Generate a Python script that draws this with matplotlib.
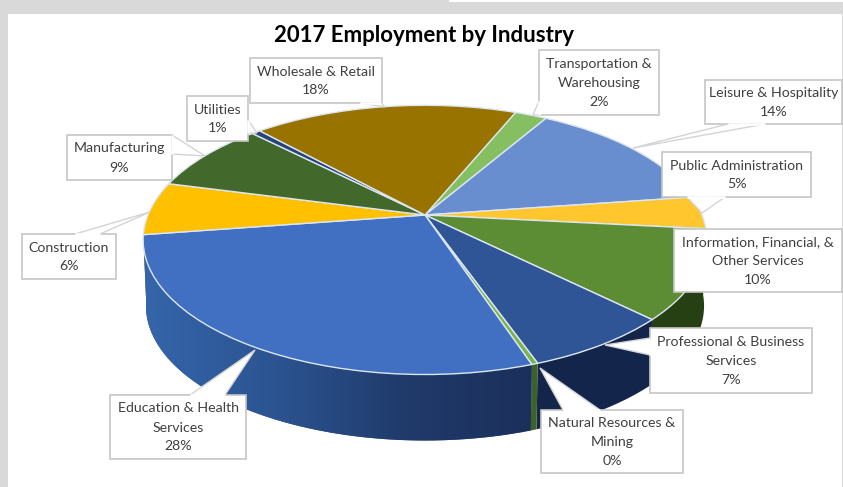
import numpy as np
import matplotlib
matplotlib.use('Agg')
import matplotlib.pyplot as plt
from matplotlib.colors import LinearSegmentedColormap
from matplotlib.patches import Polygon, Rectangle
from matplotlib.transforms import Transform

plt.rcParams['font.family'] = ['Lato', 'DejaVu Sans']

##############################################################################
#                                  DATA
##############################################################################
industries = ['Transportation &\nWarehousing', 'Leisure & Hospitality',
              'Public Administration',
              'Information, Financial, &\nOther Services',
              'Professional & Business\nServices',
              'Natural Resources &\nMining', 'Education & Health\nServices',
              'Construction', 'Manufacturing', 'Utilities',
              'Wholesale & Retail']
# slice sizes as drawn in the picture (the printed labels are rounded)
shares = [2.2, 14.3, 3.9, 10.7, 7.2, 0.3, 27.8, 6.4, 8.5, 0.6, 18.1]
share_labels = ['2%', '14%', '5%', '10%', '7%', '0%', '28%', '6%', '9%', '1%',
                '18%']

top_colors = ['#86bf62', '#698ed0', '#ffc62e', '#5c8d35', '#2f5597', '#79b44f',
              '#4170c3', '#ffc000', '#43682b', '#264478', '#997300']
side_colors = ['#4f7a35', '#3a5a95', '#a67c00', '#263f13', '#14254c', '#3d6126',
               '#2c5491', '#a67c00', '#2a4219', '#182c50', '#614900']

##############################################################################
#                                 LAYOUT
##############################################################################
# callout box (left, top, right, bottom) in pixels, then leader triangle
boxes = [(539, 50, 659, 115), (705, 80, 842, 124), (662, 152, 811, 197),
         (674, 229, 842, 292), (650, 328, 812, 393), (541, 410, 683, 473),
         (110, 395, 246, 459), (22, 234, 116, 279), (67, 135, 172, 180),
         (187, 96, 248, 141), (250, 58, 382, 103)]
leaders = [[(539, 101), (533, 115), (539, 115)],
           [(765, 124), (633, 148), (728, 124)],
           [(725, 197), (702, 213), (687, 197)],
           None,
           [(650, 355), (605, 345), (650, 338)],
           [(600, 410), (540, 368), (563, 410)],
           [(225, 395), (255, 350), (190, 395)],
           [(100, 234), (150, 212), (75, 234)],
           [(172, 135), (205, 156), (172, 154)],
           [(248, 120), (257, 133), (248, 133)],
           [(381, 103), (385, 107), (360, 103)]]

apex_x = 425;   apex_y = 215
rad_x = 277;    rad_y = 130;    tilt = 0.185
depth = 66


class Tilted(Transform):
    # unit circle -> tilted disc, in picture pixels
    input_dims = 2
    output_dims = 2
    is_affine = False
    has_inverse = False

    def transform_non_affine(self, values):
        values = np.asarray(values, dtype=float)
        w = 1 + tilt*values[:, 1]
        return np.column_stack((apex_x + rad_x*values[:, 0]/w,
                                apex_y - rad_y*values[:, 1]/w))


##############################################################################
#                                PLOTTING
##############################################################################
fig = plt.figure(figsize=(8.43, 4.87), dpi=100, facecolor='#d9d9d9')
ax = fig.add_axes([0, 0, 1, 1])

wedges, _ = ax.pie(shares, colors=top_colors, startangle=67.5, counterclock=False,
                   wedgeprops=dict(edgecolor='#dbe6f2', linewidth=1.0))
tilted = Tilted()
for w in wedges:
    w.set_transform(tilted + ax.transData)
    w.set_zorder(3)

ax.set_aspect('auto')
ax.set_xlim(0, 843)
ax.set_ylim(487, 0)
ax.axis('off')

# background panel
ax.add_patch(Rectangle((8, 14), 834, 473, facecolor='white', edgecolor='none',
                       zorder=0))
ax.add_patch(Rectangle((449, 0), 394, 2, facecolor='white', edgecolor='none',
                       zorder=0))

# side wall of the disc
for w, c in zip(wedges, side_colors):
    th = np.radians(np.linspace(w.theta1, w.theta2, 60))
    arc = tilted.transform_non_affine(np.column_stack((np.cos(th), np.sin(th))))
    low = arc + [0, depth]
    low[:, 0] = apex_x + (low[:, 0] - apex_x)*0.99
    side = Polygon(np.vstack((arc, low[::-1])), closed=True, facecolor=c,
                   edgecolor='none', zorder=1)
    ax.add_patch(side)
    if w is wedges[6]:
        shade = LinearSegmentedColormap.from_list(
            'shade', ['#3565ab', '#2c5491', '#203a6a', '#1b2f5a'])
        im = ax.imshow(np.linspace(0, 1, 256)[None, :], cmap=shade,
                       extent=(142, 540, 487, 0), aspect='auto', zorder=2)
        im.set_clip_path(side)
ax.set_xlim(0, 843)
ax.set_ylim(487, 0)

# callouts
for name, pct, box, lead in zip(industries, share_labels, boxes, leaders):
    l, t, r, b = box
    ax.add_patch(Rectangle((l, t), r-l, b-t, facecolor='white',
                           edgecolor='#c6c6c6', linewidth=1.2, zorder=4))
    if lead is not None:
        ax.add_patch(Polygon(lead, closed=False, facecolor='white',
                             edgecolor='#d4d4d4', linewidth=1.0, zorder=4))
        ax.plot([lead[0][0], lead[2][0]], [lead[0][1], lead[2][1]], color='white',
                linewidth=1.8, zorder=4.5, solid_capstyle='butt')
    ax.text((l+r)/2, (t+b)/2 + 0.5, name + '\n' + pct, ha='center', va='center',
            fontsize=10.2, color='#404040', linespacing=1.7, zorder=5)

ax.text(424, 36, '2017 Employment by Industry', ha='center', va='center',
        fontsize=16, fontweight='bold', color='black', zorder=5)

plt.savefig('out.png', dpi=100, facecolor=fig.get_facecolor())
